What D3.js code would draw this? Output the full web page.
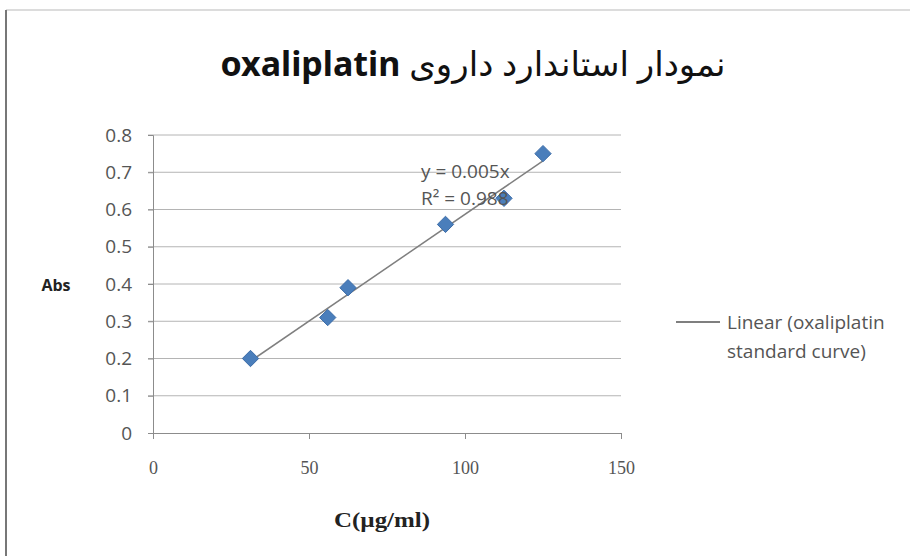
<!DOCTYPE html>
<html>
<head>
<meta charset="utf-8">
<script src="https://cdn.jsdelivr.net/npm/d3@7"></script>
<style>
  body { margin: 0; background: #fff; }
  svg { display: block; }
</style>
</head>
<body>
<svg id="chart"></svg>
<script>
(function () {
  // concentrations (µg/ml) and absorbances
  const conc = [31.25, 56, 62.5, 93.75, 112.5, 125];
  const abs = [0.2, 0.31, 0.39, 0.56, 0.63, 0.75];
  const xTicks = [0, 50, 100, 150];
  const yTicks = [0, 0.1, 0.2, 0.3, 0.4, 0.5, 0.6, 0.7, 0.8];
  const eqLines = ['y = 0.005x', 'R² = 0.988'];
  const legendLines = ['Linear (oxaliplatin', 'standard curve)'];

  const width = 910, height = 556;
  const sans = '"Open Sans", Lato, sans-serif';
  const svg = d3.select('#chart').attr('width', width).attr('height', height);

  // frame edges
  svg.append('line').attr('x1', 6).attr('x2', width).attr('y1', 10).attr('y2', 10)
    .attr('stroke', '#d0d0d0').attr('stroke-width', 1.5);
  svg.append('line').attr('x1', 6).attr('x2', 6).attr('y1', 10).attr('y2', height)
    .attr('stroke', '#777').attr('stroke-width', 2);

  const x = d3.scaleLinear().domain([0, 150]).range([153, 621]);
  const y = d3.scaleLinear().domain([0, 0.8]).range([433, 135]);

  // gridlines
  svg.append('g')
    .selectAll('line')
    .data(yTicks.slice(1))
    .join('line')
    .attr('x1', 148).attr('x2', x(150))
    .attr('y1', d => y(d)).attr('y2', d => y(d))
    .attr('stroke', '#b4b4b4').attr('stroke-width', 1);

  // axes
  const yAxis = svg.append('g')
    .attr('transform', `translate(${x(0)},0)`)
    .call(d3.axisLeft(y).tickValues(yTicks).tickSize(5).tickPadding(16)
      .tickFormat(d => d === 0 ? '0' : d3.format('.1f')(d)));
  yAxis.select('.domain').attr('stroke', '#8c8c8c');
  yAxis.selectAll('.tick line').attr('stroke', '#8c8c8c');
  yAxis.selectAll('text')
    .attr('font-family', sans)
    .attr('font-size', 19).attr('fill', '#555');

  const xAxis = svg.append('g')
    .attr('transform', `translate(0,${y(0)})`)
    .call(d3.axisBottom(x).tickValues(xTicks).tickSize(6).tickPadding(22).tickSizeOuter(0));
  xAxis.select('.domain').attr('stroke', '#8c8c8c');
  xAxis.selectAll('.tick line').attr('stroke', '#8c8c8c');
  xAxis.selectAll('text')
    .attr('font-family', '"Liberation Serif", "DejaVu Serif", serif')
    .attr('font-size', 18).attr('fill', '#555');

  // least squares trendline over the data range
  const mx = d3.mean(conc), my = d3.mean(abs);
  const sxy = d3.sum(conc, (c, i) => (c - mx) * (abs[i] - my));
  const sxx = d3.sum(conc, c => (c - mx) * (c - mx));
  const slope = sxy / sxx, icpt = my - slope * mx;
  const xr = d3.extent(conc);
  svg.append('line')
    .attr('x1', x(xr[0])).attr('y1', y(icpt + slope * xr[0]))
    .attr('x2', x(xr[1])).attr('y2', y(icpt + slope * xr[1]))
    .attr('stroke', '#7f7f7f').attr('stroke-width', 1.5);

  // diamond markers
  const diamond = d3.symbol().type(d3.symbolDiamond2).size(170);
  svg.append('g')
    .selectAll('path')
    .data(conc.map((c, i) => ({ c, a: abs[i] })))
    .join('path')
    .attr('d', diamond)
    .attr('transform', d => `translate(${x(d.c)},${y(d.a)})`)
    .attr('fill', '#4a7ebb')
    .attr('stroke', '#3d6da8').attr('stroke-width', 1);

  // equation label
  svg.append('g')
    .selectAll('text')
    .data(eqLines)
    .join('text')
    .attr('x', 421).attr('y', (d, i) => 178 + i * 27)
    .attr('font-family', sans)
    .attr('font-size', 19).attr('fill', '#555')
    .text(d => d);

  // legend
  svg.append('line').attr('x1', 676).attr('x2', 720).attr('y1', 322).attr('y2', 322)
    .attr('stroke', '#7f7f7f').attr('stroke-width', 2);
  svg.append('g')
    .selectAll('text')
    .data(legendLines)
    .join('text')
    .attr('x', 727).attr('y', (d, i) => 329 + i * 29)
    .attr('font-family', sans)
    .attr('font-size', 19).attr('fill', '#555')
    .text(d => d);

  // axis titles
  svg.append('text')
    .attr('x', 56).attr('y', 291).attr('text-anchor', 'middle')
    .attr('font-family', sans).attr('font-weight', 'bold')
    .attr('font-size', 16).attr('fill', '#222')
    .text('Abs');
  svg.append('text')
    .attr('x', 382).attr('y', 527).attr('text-anchor', 'middle')
    .attr('font-family', '"Liberation Serif", serif').attr('font-weight', 'bold')
    .attr('font-size', 20).attr('fill', '#222')
    .attr('textLength', 96).attr('lengthAdjust', 'spacingAndGlyphs')
    .text('C(µg/ml)');

  // title (right-to-left Persian with bold Latin name)
  const title = svg.append('text')
    .attr('x', 473).attr('y', 76)
    .attr('text-anchor', 'middle')
    .attr('direction', 'rtl')
    .attr('font-family', '"Noto Sans", "DejaVu Sans", sans-serif')
    .attr('font-size', 34).attr('fill', '#111');
  title.append('tspan').text('نمودار استاندارد داروی ');
  title.append('tspan').attr('font-weight', 'bold').text('oxaliplatin');
})();
</script>
</body>
</html>
